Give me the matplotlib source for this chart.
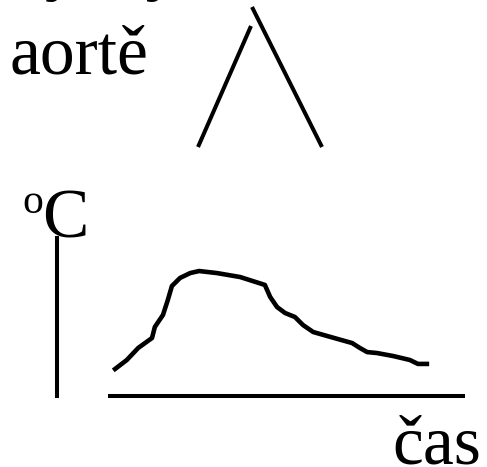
import matplotlib
matplotlib.use("Agg")
import matplotlib.pyplot as plt

plt.rcParams['font.family'] = ['Liberation Serif', 'DejaVu Serif']

# thermodilution curve: time vs temperature (arbitrary units, 0-100)
cas = [14.3, 17.2, 20.0, 23.4, 24.1, 26.1, 27.3, 28.3, 30.3, 32.8, 35.0, 39.4,
       45.1, 51.2, 52.5, 54.2, 56.2, 58.6, 60.6, 63.1, 66.5, 72.7, 74.6, 76.4,
       78.8, 82.8, 86.9, 88.9, 91.1]
teplota = [17.1, 22.8, 30.4, 36.7, 43.7, 51.3, 60.8, 69.6, 74.7, 77.8, 79.1, 77.8,
           75.3, 70.3, 62.7, 56.3, 52.5, 50.0, 44.9, 40.5, 38.0, 33.5, 30.4, 27.8,
           27.2, 25.3, 22.8, 20.3, 20.3]

# schematic "wedge" above the graph (pixel canvas, y downwards)
klin_levy_x = [198, 251]
klin_levy_y = [147, 26]
klin_pravy_x = [252, 322]
klin_pravy_y = [7, 147]

W, H = 487, 467
fig = plt.figure(figsize=(W / 100, H / 100), dpi=100)

# canvas for texts and the schematic lines
can = fig.add_axes([0, 0, 1, 1])
can.set_xlim(0, W)
can.set_ylim(H, 0)
can.axis('off')

lw = 2.9
can.plot(klin_levy_x, klin_levy_y, color='black', lw=lw, solid_capstyle='butt')
can.plot(klin_pravy_x, klin_pravy_y, color='black', lw=lw, solid_capstyle='butt')

fs = 50
can.text(10, -13, "vývoj", fontsize=fs, va='baseline', ha='left')
can.text(10, 73, "aortě", fontsize=fs, va='baseline', ha='left')
can.text(22, 213, "o", fontsize=30, va='baseline', ha='left')
can.text(42, 237, "C", fontsize=fs, va='baseline', ha='left')
can.text(392, 463, "čas", fontsize=fs, va='baseline', ha='left')
can.text(8, 519, "dně", fontsize=fs, va='baseline', ha='left')

# graph area: x from 57 to 463 px, y from 238 to 396 px
ax = fig.add_axes([57 / W, 1 - 396 / H, (463 - 57) / W, (396 - 238) / H])
ax.patch.set_alpha(0)
ax.plot(cas, teplota, color='black', lw=3.3, solid_joinstyle='round')
ax.set_xlim(0, 100)
ax.set_ylim(0, 100)
for s in ['top', 'right']:
    ax.spines[s].set_visible(False)
ax.spines['left'].set_linewidth(lw)
ax.spines['bottom'].set_linewidth(lw)
ax.spines['bottom'].set_bounds(13.05, 100)
ax.set_xticks([])
ax.set_yticks([])

fig.savefig("out.png", dpi=100)
